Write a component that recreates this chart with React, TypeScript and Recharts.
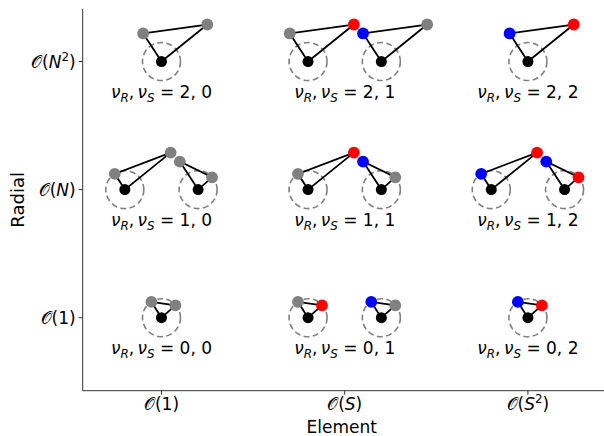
import React from "react";
import { ScatterChart, Scatter, XAxis, YAxis, Label } from "recharts";

// tick labels: O(arg^sup)
const xTickLabels = [
  { arg: "1", sup: "" },
  { arg: "S", sup: "" },
  { arg: "S", sup: "2" },
];
const yTickLabels = [
  { arg: "1", sup: "" },
  { arg: "N", sup: "" },
  { arg: "N", sup: "2" },
];

// central (black) atoms, one per small diagram
const centres = [
  { x: 0, y: 2 }, { x: 0.8, y: 2 }, { x: 1.2, y: 2 }, { x: 2, y: 2 },
  { x: -0.2, y: 1 }, { x: 0.2, y: 1 }, { x: 0.8, y: 1 }, { x: 1.2, y: 1 }, { x: 1.8, y: 1 }, { x: 2.2, y: 1 },
  { x: 0, y: 0 }, { x: 0.8, y: 0 }, { x: 1.2, y: 0 }, { x: 2, y: 0 },
];

// neighbour atoms (same order as centres)
const firstAtoms = [
  { x: -0.1, y: 2.219 }, { x: 0.7, y: 2.219 }, { x: 1.1, y: 2.219 }, { x: 1.9, y: 2.219 },
  { x: -0.255, y: 1.123 }, { x: 0.1, y: 1.219 }, { x: 0.745, y: 1.123 }, { x: 1.1, y: 1.219 }, { x: 1.745, y: 1.123 }, { x: 2.1, y: 1.219 },
  { x: -0.055, y: 0.123 }, { x: 0.745, y: 0.123 }, { x: 1.145, y: 0.123 }, { x: 1.945, y: 0.123 },
];
const secondAtoms = [
  { x: 0.25, y: 2.289 }, { x: 1.05, y: 2.289 }, { x: 1.45, y: 2.289 }, { x: 2.25, y: 2.289 },
  { x: 0.05, y: 1.289 }, { x: 0.276, y: 1.096 }, { x: 1.05, y: 1.289 }, { x: 1.276, y: 1.096 }, { x: 2.05, y: 1.289 }, { x: 2.276, y: 1.096 },
  { x: 0.076, y: 0.096 }, { x: 0.876, y: 0.096 }, { x: 1.276, y: 0.096 }, { x: 2.076, y: 0.096 },
];
const firstColors = [
  "gray", "gray", "blue", "blue",
  "gray", "gray", "gray", "blue", "blue", "blue",
  "gray", "gray", "blue", "blue",
];
const secondColors = [
  "gray", "red", "gray", "red",
  "gray", "gray", "red", "gray", "red", "red",
  "gray", "red", "gray", "red",
];

// one caption per grid cell: nu_R = row, nu_S = column
const cells = [
  { x: 0, y: 2 }, { x: 1, y: 2 }, { x: 2, y: 2 },
  { x: 0, y: 1 }, { x: 1, y: 1 }, { x: 2, y: 1 },
  { x: 0, y: 0 }, { x: 1, y: 0 }, { x: 2, y: 0 },
];

const FONT = "DejaVu Sans";
const FS = 17;
const COLOR: Record<string, string> = { gray: "#808080", red: "#ff0000", blue: "#0000ff" };

const neighbours = firstAtoms
  .map((p, i) => ({ ...p, color: firstColors[i] }))
  .concat(secondAtoms.map((p, i) => ({ ...p, color: secondColors[i] })));

const triangles = centres.map((c, i) => [c, firstAtoms[i], secondAtoms[i], c]);

function BigO({ arg, sup }: { arg: string; sup: string }) {
  const italic = arg !== "1";
  return (
    <>
      <tspan>𝒪(</tspan>
      <tspan fontStyle={italic ? "italic" : "normal"}>{arg}</tspan>
      {sup ? (
        <tspan fontSize={FS * 0.7} dy={-7}>{sup}</tspan>
      ) : null}
      <tspan dy={sup ? 7 : 0}>)</tspan>
    </>
  );
}

function XTick(props: any) {
  const { x, y, payload } = props;
  const t = xTickLabels[Math.round(payload.value)];
  return (
    <text x={x} y={y} dy="0.71em" textAnchor="middle" fontFamily={FONT} fontSize={FS} fill="#000">
      <BigO arg={t.arg} sup={t.sup} />
    </text>
  );
}

function YTick(props: any) {
  const { x, y, payload } = props;
  const t = yTickLabels[Math.round(payload.value)];
  return (
    <text x={x} y={y} dy="0.36em" textAnchor="end" fontFamily={FONT} fontSize={FS} fill="#000">
      <BigO arg={t.arg} sup={t.sup} />
    </text>
  );
}

const DashedRing = (p: any) => (
  <circle cx={p.cx} cy={p.cy} r={19} fill="none" stroke="#808080" strokeWidth={1.6} strokeDasharray="6 3.4" />
);
const Nothing = () => <g />;
const BlackAtom = (p: any) => <circle cx={p.cx} cy={p.cy} r={5.5} fill="#000" />;
const ColorAtom = (p: any) => <circle cx={p.cx} cy={p.cy} r={5.9} fill={COLOR[p.payload.color]} />;

const Caption = (p: any) => {
  const r = p.payload.y;
  const c = p.payload.x;
  return (
    <text x={p.cx} y={p.cy + 36.5} textAnchor="middle" fontFamily={FONT} fontSize={FS} fill="#000">
      <tspan fontStyle="italic">ν</tspan>
      <tspan fontStyle="italic" fontSize={FS * 0.7} dy={4}>R</tspan>
      <tspan dy={-4}>,{"\u2009"}</tspan>
      <tspan fontStyle="italic">ν</tspan>
      <tspan fontStyle="italic" fontSize={FS * 0.7} dy={4}>S</tspan>
      <tspan dy={-4}>{` = ${r}, ${c}`}</tspan>
    </text>
  );
};

export default function App() {
  return (
    <div style={{ position: "absolute", left: 0, top: 0, width: 604, height: 436, overflow: "hidden", background: "#fff" }}>
      <ScatterChart width={610} height={436} margin={{ top: 9, right: 3.3, bottom: 0, left: 0 }}>
        <XAxis
          type="number"
          dataKey="x"
          domain={[-0.43, 2.43]}
          ticks={[0, 1, 2]}
          allowDataOverflow
          height={45.3}
          tickSize={4}
          tickMargin={3}
          stroke="#333"
          tick={<XTick />}
        >
          <Label
            content={(lp: any) => (
              <text x={lp.viewBox.x + lp.viewBox.width / 2 - 3} y={lp.viewBox.y + 42.6} textAnchor="middle" fontFamily={FONT} fontSize={FS} fill="#000">
                Element
              </text>
            )}
          />
        </XAxis>
        <XAxis xAxisId="top" orientation="top" type="number" domain={[-0.43, 2.43]} height={0} tick={false} tickLine={false} stroke="#333" />
        <YAxis
          type="number"
          dataKey="y"
          domain={[-0.57, 2.41]}
          ticks={[0, 1, 2]}
          allowDataOverflow
          width={82.7}
          tickSize={4}
          tickMargin={3}
          stroke="#333"
          tick={<YTick />}
        >
          <Label
            content={(lp: any) => {
              const cy = lp.viewBox.y + lp.viewBox.height / 2;
              return (
                <text x={24} y={cy} transform={`rotate(-90, 24, ${cy})`} textAnchor="middle" fontFamily={FONT} fontSize={18} fill="#000">
                  Radial
                </text>
              );
            }}
          />
        </YAxis>
        <Scatter data={centres} shape={DashedRing} isAnimationActive={false} />
        {triangles.map((t, i) => (
          <Scatter
            key={i}
            data={t}
            line={{ stroke: "#000", strokeWidth: 1.8 }}
            shape={Nothing}
            isAnimationActive={false}
          />
        ))}
        <Scatter data={neighbours} shape={ColorAtom} isAnimationActive={false} />
        <Scatter data={centres} shape={BlackAtom} isAnimationActive={false} />
        <Scatter data={cells} shape={Caption} isAnimationActive={false} />
      </ScatterChart>
    </div>
  );
}
